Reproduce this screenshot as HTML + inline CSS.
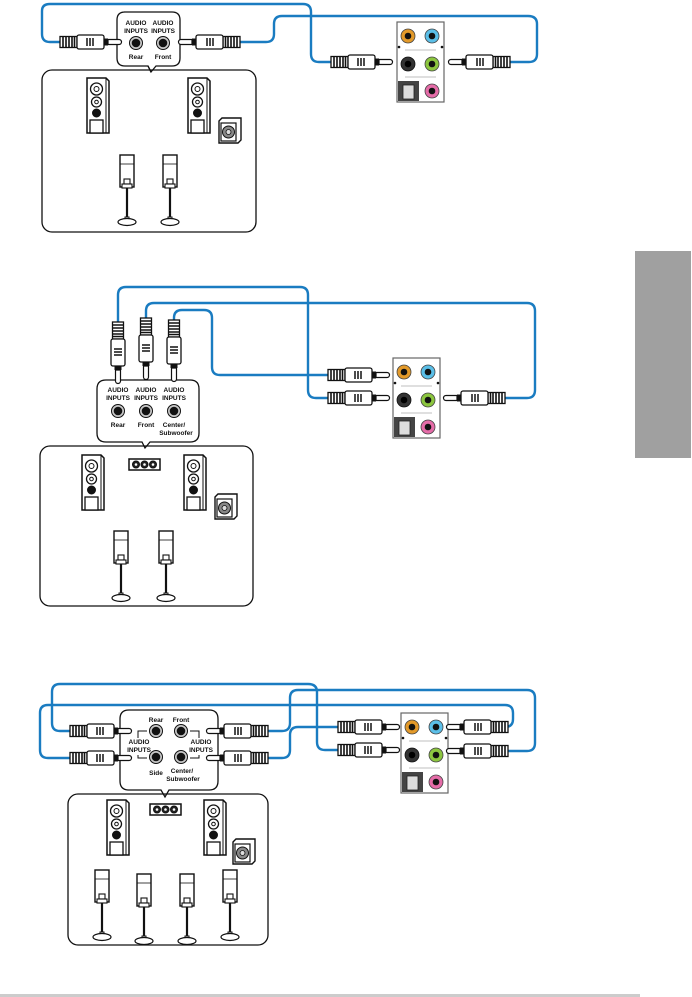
<!DOCTYPE html>
<html><head><meta charset="utf-8">
<style>
html,body{margin:0;padding:0;background:#fff;}
svg{display:block;}
text{font-family:"Liberation Sans",Arial,sans-serif;font-weight:bold;fill:#111;}
</style></head>
<body>
<svg width="692" height="997" viewBox="0 0 692 997" xmlns="http://www.w3.org/2000/svg">
<defs>
  <g id="plug">
    <rect x="0" y="-5.5" width="17" height="11" fill="#fff" stroke="#111" stroke-width="1.3"/>
    <path d="M3,-5 v10 M6,-5 v10 M9,-5 v10 M12,-5 v10 M14.5,-5 v10" stroke="#111" stroke-width="1.6"/>
    <rect x="17" y="-7" width="27" height="14" rx="2" fill="#fff" stroke="#111" stroke-width="1.3"/>
    <path d="M27,-4 v8 M30,-4 v8 M33,-4 v8" stroke="#111" stroke-width="1.5"/>
    <rect x="44" y="-3.5" width="4" height="7" fill="#111"/>
    <path d="M48,-2.5 h11 a2.5,2.5 0 0 1 0,5 h-11 z" fill="#fff" stroke="#111" stroke-width="1.2"/>
  </g>
  <g id="jack">
    <circle r="6.5" fill="#c8c8c8" stroke="#111" stroke-width="1"/>
    <circle r="4.3" fill="#111"/>
  </g>
  <g id="panel">
    <rect x="0" y="0" width="47" height="80" fill="#fff" stroke="#666" stroke-width="1.2"/>
    <circle cx="11" cy="14" r="7" fill="#e39a2a" stroke="#444" stroke-width="0.8"/><circle cx="11" cy="14" r="3.3" fill="#111"/>
    <circle cx="35" cy="14" r="7" fill="#5bbfe8" stroke="#444" stroke-width="0.8"/><circle cx="35" cy="14" r="3.3" fill="#111"/>
    <circle cx="2" cy="25" r="1.3" fill="#111"/><circle cx="45" cy="25" r="1.3" fill="#111"/>
    <line x1="8" y1="28" x2="39" y2="28" stroke="#ccc" stroke-width="1.2"/>
    <circle cx="11" cy="42" r="7" fill="#333" stroke="#111" stroke-width="0.8"/><circle cx="11" cy="42" r="3.3" fill="#000"/>
    <circle cx="35" cy="42" r="7" fill="#8cc63f" stroke="#444" stroke-width="0.8"/><circle cx="35" cy="42" r="3.3" fill="#111"/>
    <line x1="8" y1="55" x2="39" y2="55" stroke="#ccc" stroke-width="1.2"/>
    <rect x="1" y="59" width="21" height="20" fill="#444"/>
    <rect x="6" y="63" width="11" height="14" fill="#ddd" stroke="#222" stroke-width="0.8"/>
    <circle cx="35" cy="69" r="7" fill="#e56ca8" stroke="#444" stroke-width="0.8"/><circle cx="35" cy="69" r="3.3" fill="#111"/>
  </g>
  <g id="tower" stroke="#111" fill="#fff">
    <path d="M0,0 h19 l3,3 v52 h-22 z" stroke-width="1.5"/>
    <line x1="19" y1="0" x2="19" y2="55" stroke-width="1"/>
    <circle cx="9.5" cy="11" r="6" stroke-width="1.3"/><circle cx="9.5" cy="11" r="2.5" stroke-width="1"/>
    <circle cx="9.5" cy="24" r="5" stroke-width="1.3"/><circle cx="9.5" cy="24" r="1.8" stroke-width="1"/>
    <circle cx="9.5" cy="35" r="4" fill="#111"/>
    <rect x="3" y="42" width="13" height="13" stroke-width="1.3"/>
  </g>
  <g id="sub" stroke="#111">
    <path d="M0,3 l3,-3 h19 v22 l-3,3 h-19 z" fill="#fff" stroke-width="1.4"/>
    <rect x="2" y="5" width="15" height="18" fill="#fff" stroke-width="1.2"/>
    <circle cx="9.5" cy="14" r="6" fill="#888" stroke-width="1"/>
    <circle cx="9.5" cy="14" r="2.5" fill="#ddd" stroke-width="0.8"/>
  </g>
  <g id="sat" stroke="#111" fill="#fff">
    <rect x="0" y="0" width="14" height="32" stroke-width="1.4"/>
    <line x1="0" y1="9" x2="14" y2="9" stroke-width="0.8"/>
    <rect x="4" y="24" width="6" height="5" stroke-width="1.1"/>
    <rect x="2" y="29" width="10" height="4" stroke-width="1.1"/>
    <line x1="7" y1="33" x2="7" y2="64" stroke-width="2.2"/>
    <rect x="5" y="62" width="4" height="4" stroke-width="1"/>
    <ellipse cx="7" cy="67" rx="9" ry="3.5" stroke-width="1.2"/>
  </g>
  <g id="center" stroke="#111">
    <rect x="0" y="0" width="31" height="11" fill="#fff" stroke-width="1.5"/>
    <circle cx="7" cy="5.5" r="3.5" fill="#222"/><circle cx="15.5" cy="5.5" r="3.5" fill="#222"/><circle cx="24" cy="5.5" r="3.5" fill="#222"/>
    <circle cx="7" cy="5.5" r="1.3" fill="#fff" stroke="none"/><circle cx="15.5" cy="5.5" r="1.3" fill="#fff" stroke="none"/><circle cx="24" cy="5.5" r="1.3" fill="#fff" stroke="none"/>
  </g>
</defs>

<rect x="635" y="251" width="56" height="207" fill="#a0a0a0"/>
<rect x="0" y="994" width="640" height="3" fill="#cccccc"/>

<g fill="none" stroke="#1a7cc1" stroke-width="2.4" stroke-linejoin="round">
  <path d="M60,42 H50 Q42,42 42,34 V11 Q42,4 50,4 H303 Q311,4 311,12 V54 Q311,62 319,62 H331"/>
  <path d="M240,42 H266 Q274,42 274,34 V24 Q274,16 282,16 H528 Q537,16 537,24 V54 Q537,62 529,62 H510"/>
  <path d="M118,322 V295 Q118,287 126,287 H300 Q308,287 308,295 V390 Q308,398 316,398 H328"/>
  <path d="M146,318 V311 Q146,303 154,303 H527 Q535,303 535,311 V390 Q535,398 527,398 H505"/>
  <path d="M174,320 V318 Q174,310 182,310 H204 Q212,310 212,318 V367 Q212,375 220,375 H328"/>
  <path d="M70,731 H60 Q52,731 52,723 V692 Q52,684 60,684 H308 Q317,684 317,692 V742 Q317,750 325,750 H338"/>
  <path d="M70,758 H48 Q40,758 40,750 V713 Q40,705 48,705 H505 Q513,705 513,713 V719 Q513,727 505,727 H508"/>
  <path d="M268,731 H282 Q290,731 290,723 V698 Q290,690 298,690 H527 Q535,690 535,698 V743 Q535,751 527,751 H508"/>
  <path d="M268,758 H282 Q290,758 290,750 V735 Q290,727 298,727 H338"/>
</g>

<path d="M124,12 H172 Q180,12 180,20 V58 Q180,66 172,66 H156 L151,72 L148,66 H125 Q117,66 117,58 V20 Q117,12 125,12 Z" fill="#fff" stroke="#111" stroke-width="1.3"/>
<rect x="42" y="70" width="214" height="162" rx="10" fill="none" stroke="#111" stroke-width="1.3"/>
<line x1="148" y1="66" x2="151" y2="72" stroke="#111" stroke-width="1.3"/>
<text x="136" y="25" font-size="6.5" text-anchor="middle">AUDIO</text>
<text x="136" y="33" font-size="6.5" text-anchor="middle">INPUTS</text>
<text x="163" y="25" font-size="6.5" text-anchor="middle">AUDIO</text>
<text x="163" y="33" font-size="6.5" text-anchor="middle">INPUTS</text>
<use href="#jack" x="136" y="43"/><use href="#jack" x="163" y="43"/>
<text x="136" y="59" font-size="6.5" text-anchor="middle">Rear</text>
<text x="163" y="59" font-size="6.5" text-anchor="middle">Front</text>
<use href="#plug" transform="translate(60,42)"/>
<use href="#plug" transform="translate(240,42) scale(-1,1)"/>
<use href="#panel" x="397" y="22"/>
<use href="#plug" transform="translate(331,62)"/>
<use href="#plug" transform="translate(510,62) scale(-1,1)"/>
<use href="#tower" x="87" y="78"/>
<use href="#tower" x="188" y="78"/>
<use href="#sub" x="219" y="118"/>
<use href="#sat" x="120" y="155"/>
<use href="#sat" x="163" y="155"/>

<path d="M106,380 H190 Q199,380 199,389 V433 Q199,442 190,442 H150 L145,448 L142,442 H106 Q97,442 97,433 V389 Q97,380 106,380 Z" fill="#fff" stroke="#111" stroke-width="1.3"/>
<rect x="40" y="446" width="213" height="160" rx="10" fill="none" stroke="#111" stroke-width="1.3"/>
<text x="118" y="392" font-size="6.5" text-anchor="middle">AUDIO</text>
<text x="118" y="400" font-size="6.5" text-anchor="middle">INPUTS</text>
<text x="146" y="392" font-size="6.5" text-anchor="middle">AUDIO</text>
<text x="146" y="400" font-size="6.5" text-anchor="middle">INPUTS</text>
<text x="174" y="392" font-size="6.5" text-anchor="middle">AUDIO</text>
<text x="174" y="400" font-size="6.5" text-anchor="middle">INPUTS</text>
<use href="#jack" x="118" y="411"/><use href="#jack" x="146" y="411"/><use href="#jack" x="174" y="411"/>
<text x="118" y="427" font-size="6.5" text-anchor="middle">Rear</text>
<text x="146" y="427" font-size="6.5" text-anchor="middle">Front</text>
<text x="174" y="427" font-size="6.5" text-anchor="middle">Center/</text>
<text x="176" y="435" font-size="6.5" text-anchor="middle">Subwoofer</text>
<use href="#plug" transform="translate(118,322) rotate(90)"/>
<use href="#plug" transform="translate(146,318) rotate(90)"/>
<use href="#plug" transform="translate(174,320) rotate(90)"/>
<use href="#panel" x="393" y="358"/>
<use href="#plug" transform="translate(328,375)"/>
<use href="#plug" transform="translate(328,398)"/>
<use href="#plug" transform="translate(505,398) scale(-1,1)"/>
<use href="#tower" x="82" y="455"/>
<use href="#tower" x="184" y="455"/>
<use href="#center" x="129" y="459"/>
<use href="#sub" x="215" y="494"/>
<use href="#sat" x="114" y="531"/>
<use href="#sat" x="159" y="531"/>

<path d="M129,710 H209 Q218,710 218,719 V781 Q218,790 209,790 H169 L165,797 L161,790 H129 Q120,790 120,781 V719 Q120,710 129,710 Z" fill="#fff" stroke="#111" stroke-width="1.3"/>
<rect x="68" y="794" width="200" height="151" rx="10" fill="none" stroke="#111" stroke-width="1.3"/>
<text x="156" y="722" font-size="6.5" text-anchor="middle">Rear</text>
<text x="181" y="722" font-size="6.5" text-anchor="middle">Front</text>
<use href="#jack" x="156" y="731"/><use href="#jack" x="181" y="731"/>
<use href="#jack" x="156" y="757"/><use href="#jack" x="181" y="757"/>
<text x="156" y="775" font-size="6.5" text-anchor="middle">Side</text>
<text x="182" y="773" font-size="6.5" text-anchor="middle">Center/</text>
<text x="183" y="781" font-size="6.5" text-anchor="middle">Subwoofer</text>
<text x="139" y="744" font-size="6.5" text-anchor="middle">AUDIO</text>
<text x="139" y="752" font-size="6.5" text-anchor="middle">INPUTS</text>
<text x="201" y="744" font-size="6.5" text-anchor="middle">AUDIO</text>
<text x="201" y="752" font-size="6.5" text-anchor="middle">INPUTS</text>
<path d="M147,731 H138 V738 M138,755 V758 H147 M190,731 H199 V738 M199,755 V758 H190" fill="none" stroke="#111" stroke-width="1"/>
<use href="#plug" transform="translate(70,731)"/>
<use href="#plug" transform="translate(70,758)"/>
<use href="#plug" transform="translate(268,731) scale(-1,1)"/>
<use href="#plug" transform="translate(268,758) scale(-1,1)"/>
<use href="#panel" x="401" y="713"/>
<use href="#plug" transform="translate(338,727)"/>
<use href="#plug" transform="translate(338,750)"/>
<use href="#plug" transform="translate(508,727) scale(-1,1)"/>
<use href="#plug" transform="translate(508,751) scale(-1,1)"/>
<use href="#tower" x="107" y="800"/>
<use href="#tower" x="204" y="800"/>
<use href="#center" x="150" y="804"/>
<use href="#sub" x="233" y="839"/>
<use href="#sat" x="95" y="870"/>
<use href="#sat" x="137" y="874"/>
<use href="#sat" x="180" y="874"/>
<use href="#sat" x="223" y="870"/>
</svg>
</body></html>
